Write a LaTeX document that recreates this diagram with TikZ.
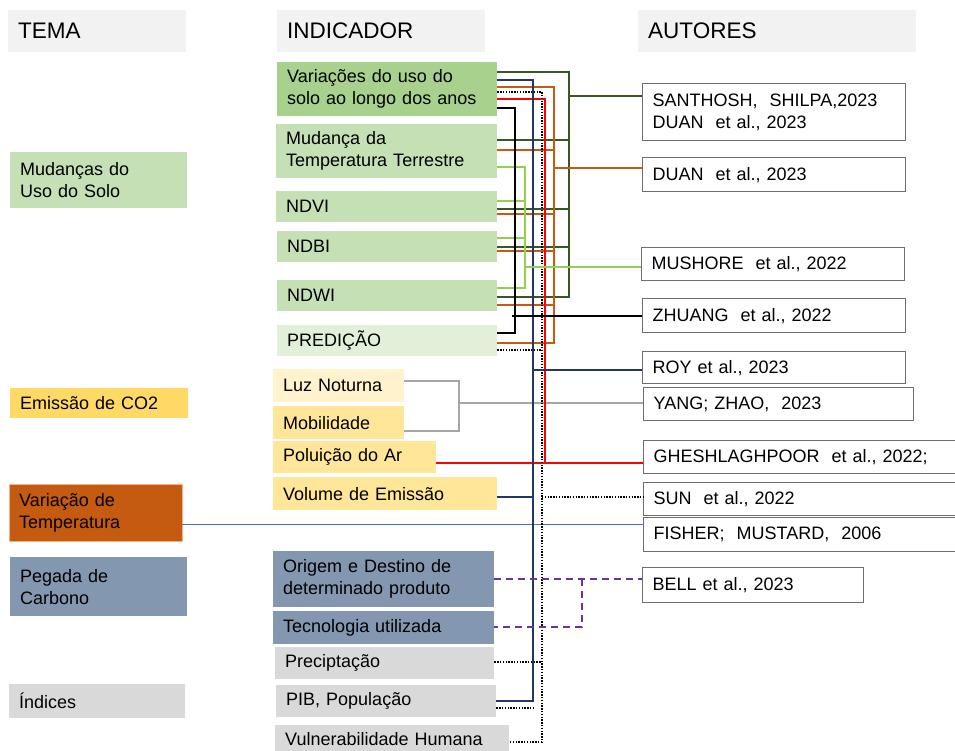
\documentclass[tikz,border=0pt]{standalone}
\usepackage{fontspec}
\setmainfont{Liberation Sans}
\usepackage{xcolor}
\usepackage{tikz}

\definecolor{cabec}{HTML}{F2F2F2}
\definecolor{verdeA}{HTML}{A9D18E}
\definecolor{verdeB}{HTML}{C5E0B4}
\definecolor{verdeC}{HTML}{E2F0D9}
\definecolor{amareloC}{HTML}{FFF2CC}
\definecolor{amarelo}{HTML}{FFE699}
\definecolor{amareloT}{HTML}{FFD966}
\definecolor{laranja}{HTML}{C55A11}
\definecolor{laranjaC}{HTML}{F4B183}
\definecolor{azulcinza}{HTML}{8497B0}
\definecolor{cinza}{HTML}{D9D9D9}
\definecolor{borda}{HTML}{6E6E6E}
\definecolor{linhaVE}{HTML}{385723}
\definecolor{linhaAZ}{HTML}{1F3864}
\definecolor{linhaLA}{HTML}{C55A11}
\definecolor{linhaVM}{HTML}{FF0000}
\definecolor{linhaVC}{HTML}{92D050}
\definecolor{linhaCZ}{HTML}{A6A6A6}
\definecolor{linhaAC}{HTML}{4472C4}
\definecolor{linhaRX}{HTML}{7030A0}

\begin{document}
\begin{tikzpicture}[x=1pt,y=-1pt,
      every node/.style={anchor=north west,inner xsep=10pt,inner ysep=0pt,
        align=left,font=\fontsize{18}{22}\selectfont},
      head box/.style={fill=cabec,font=\fontsize{22.5}{26}\selectfont},
      aut box/.style={draw=borda,line width=1.3pt,fill=white},
      dk green/.style={linhaVE,line width=2.2pt},
      navy/.style={linhaAZ,line width=2.6pt},
      orange/.style={linhaLA,line width=2pt},
      red line/.style={linhaVM,line width=2.2pt},
      dots/.style={black,line width=2pt,dash pattern=on 1.4pt off 1.4pt},
      black line/.style={black,line width=2.6pt},
      lt green/.style={linhaVC,line width=2.6pt},
      gray line/.style={linhaCZ,line width=1.6pt},
      blue line/.style={linhaAC,line width=1pt},
      purple dash/.style={linhaRX,line width=2pt,dash pattern=on 7pt off 5pt}]

      \useasboundingbox (0,0) rectangle (955,751);

      % cabecalhos
      \node[head box,text width=158pt,minimum height=42pt] (tema) at (8,10) {TEMA};
      \node[head box,text width=188pt,minimum height=42pt] (indicador) at (277,10) {INDICADOR};
      \node[head box,text width=258pt,minimum height=42pt] (autores) at (638,10) {AUTORES};

      % temas
      \node[fill=verdeB,text width=157pt,minimum height=56pt] (solo) at (10,152) {Mudanças do\\Uso do Solo};
      \node[fill=amareloT,text width=158pt,minimum height=30pt] (co2) at (10,388) {Emissão de CO2};
      \node[fill=laranja,draw=laranjaC,text width=153pt,minimum height=57pt] (temp) at (9,484) {Variação de\\Temperatura};
      \node[fill=azulcinza,text width=157pt,minimum height=59pt] (pegada) at (10,557) {Pegada de\\Carbono};
      \node[fill=cinza,text width=156pt,minimum height=34pt] (indices) at (9,684) {Índices};

      % indicadores
      \node[fill=verdeA,text width=200pt,minimum height=54pt] (var) at (277,62) {Variações do uso do\\solo ao longo dos anos};
      \node[fill=verdeB,text width=201pt,minimum height=54pt] (mudtemp) at (276,124) {Mudança da\\Temperatura Terrestre};
      \node[fill=verdeB,text width=201pt,minimum height=31pt] (ndvi) at (276,191) {NDVI};
      \node[fill=verdeB,text width=200pt,minimum height=31pt] (ndbi) at (277,231) {NDBI};
      \node[fill=verdeB,text width=200pt,minimum height=31pt] (ndwi) at (277,280) {NDWI};
      \node[fill=verdeC,text width=200pt,minimum height=31pt] (pred) at (277,325) {PREDIÇÃO};
      \node[fill=amareloC,text width=111pt,minimum height=33pt] (luz) at (273,369) {Luz Noturna};
      \node[fill=amarelo,text width=111pt,minimum height=33pt] (mob) at (273,406) {Mobilidade};
      \node[fill=amarelo,text width=143pt,minimum height=32pt] (polu) at (273,441) {Poluição do Ar};
      \node[fill=amarelo,text width=204pt,minimum height=33pt] (vol) at (273,477) {Volume de Emissão};
      \node[fill=azulcinza,text width=201pt,minimum height=56pt] (origem) at (273,551) {Origem e Destino de\\determinado produto};
      \node[fill=azulcinza,text width=201pt,minimum height=33pt] (tecno) at (273,611) {Tecnologia utilizada};
      \node[fill=cinza,text width=199pt,minimum height=32pt] (precip) at (275,647) {Preciptação};
      \node[fill=cinza,text width=200pt,minimum height=32pt] (pib) at (276,685) {PIB, População};
      \node[fill=cinza,text width=214pt,minimum height=28pt] (vuln) at (275,725) {Vulnerabilidade Humana};

      % autores
      \node[aut box,text width=243pt,minimum height=57pt] (santhosh) at (642,83) {SANTHOSH,\ \ SHILPA,2023\\DUAN\ \ et al., 2023};
      \node[aut box,text width=243pt,minimum height=34pt] (duan) at (642,157) {DUAN\ \ et al., 2023};
      \node[aut box,text width=243pt,minimum height=33pt] (mushore) at (641,247) {MUSHORE\ \ et al., 2022};
      \node[aut box,text width=243pt,minimum height=34pt] (zhuang) at (642,298) {ZHUANG\ \ et al., 2022};
      \node[aut box,text width=243pt,minimum height=32pt] (roy) at (642,351) {ROY et al., 2023};
      \node[aut box,text width=250pt,minimum height=33pt] (yang) at (643,387) {YANG; ZHAO,\ \ 2023};
      \node[aut box,text width=297pt,minimum height=33pt] (ghesh) at (643,440) {GHESHLAGHPOOR\ \ et al., 2022;};
      \node[aut box,text width=297pt,minimum height=33pt] (sun) at (643,482) {SUN\ \ et al., 2022};
      \node[aut box,text width=297pt,minimum height=34pt] (fisher) at (643,517) {FISHER;\ \ MUSTARD,\ \ 2006};
      \node[aut box,text width=201pt,minimum height=35pt] (bell) at (642,567) {BELL et al., 2023};

      % barramentos
      \coordinate (busbk) at (515,0);
      \coordinate (buslg) at (525,0);
      \coordinate (busnv) at (533,0);
      \coordinate (busdt) at (542,0);
      \coordinate (busrd) at (545,0);
      \coordinate (busor) at (554,0);
      \coordinate (busdg) at (569,0);
      \coordinate (busgr) at (459,0);
      \coordinate (buspu) at (582,0);

      % ligacoes
      \draw[blue line] (temp.east |- 0,524) -- (fisher.west |- 0,524);
      \draw[gray line] (luz.east |- 0,381) -| (busgr |- 0,431) -- (mob.east |- 0,431);
      \draw[gray line] (busgr |- 0,403) -- (yang.west |- 0,403);
      \draw[red line] (polu.east |- 0,463) -- (ghesh.west |- 0,463);

      \draw[dk green] (var.east |- 0,72) -| (busdg |- 0,297) -- (ndwi.east |- 0,297);
      \foreach \n/\y in {mudtemp/140,ndvi/209,ndbi/247}
        \draw[dk green] (\n.east |- 0,\y) -- (busdg |- 0,\y);
      \draw[dk green] (busdg |- 0,96) -- (santhosh.west |- 0,96);

      \draw[orange] (var.east |- 0,87) -| (busor |- 0,343) -- (pred.east |- 0,343);
      \foreach \n/\y in {mudtemp/150,ndvi/214,ndbi/251,ndwi/305}
        \draw[orange] (\n.east |- 0,\y) -- (busor |- 0,\y);
      \draw[orange] (busor |- 0,168) -- (duan.west |- 0,168);

      \draw[red line] (var.east |- 0,99) -| (busrd |- 0,463);

      \draw[dots] (var.east |- 0,92) -| (busdt |- 0,742) -- (vuln.east |- 0,742);
      \foreach \n/\y in {pred/350,precip/662}
        \draw[dots] (\n.east |- 0,\y) -- (busdt |- 0,\y);
      \draw[dots] (busdt |- 0,497) -- (sun.west |- 0,497);
      \draw[dots] (pib.east |- 0,708) -- (busnv |- 0,708);

      \draw[navy] (var.east |- 0,80) -| (busnv |- 0,701) -- (pib.east |- 0,701);
      \draw[navy] (vol.east |- 0,497) -- (busnv |- 0,497);
      \draw[navy] (busnv |- 0,370) -- (roy.west |- 0,370);

      \draw[lt green] (mudtemp.east |- 0,167) -| (buslg |- 0,288) -- (ndwi.east |- 0,288);
      \foreach \n/\y in {ndvi/201,ndbi/238}
        \draw[lt green] (\n.east |- 0,\y) -- (buslg |- 0,\y);
      \draw[lt green] (buslg |- 0,267) -- (mushore.west |- 0,267);

      \draw[black line] (var.east |- 0,108) -| (busbk |- 0,333) -- (pred.east |- 0,333);
      \draw[black line] ([xshift=-3pt]busbk |- 0,316) -- (zhuang.west |- 0,316);

      \draw[purple dash] (origem.east |- 0,579) -- (bell.west |- 0,579);
      \draw[purple dash] (buspu |- 0,579) |- (tecno.east |- 0,627);
\end{tikzpicture}
\end{document}
